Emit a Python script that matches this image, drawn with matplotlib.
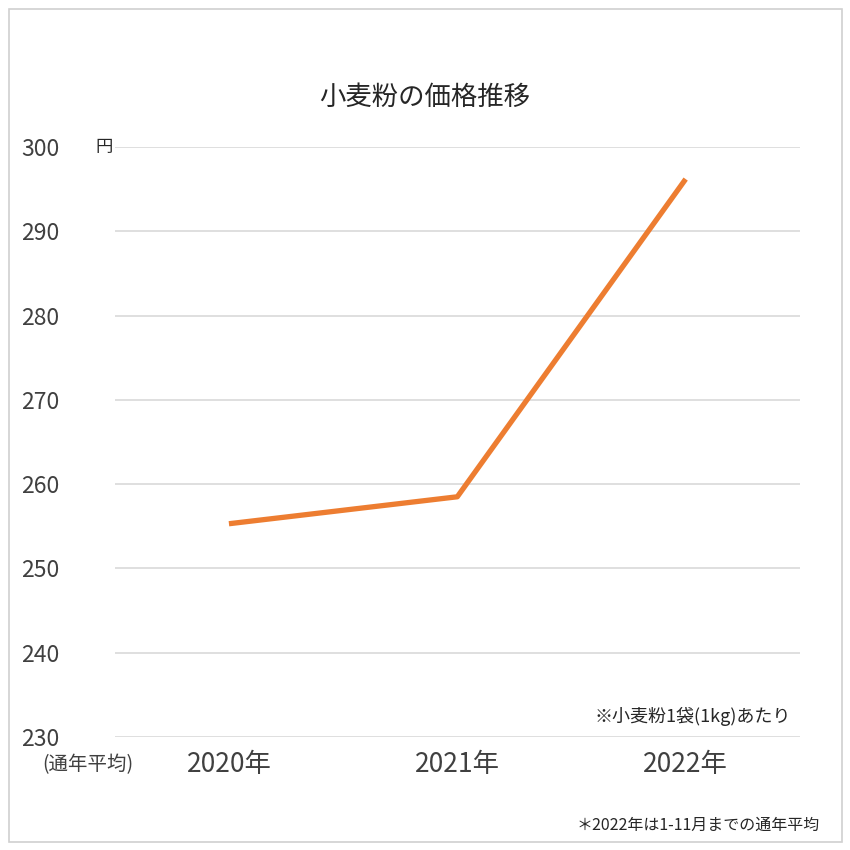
import matplotlib
matplotlib.use("Agg")
import matplotlib.pyplot as plt
from matplotlib.patches import Rectangle

plt.rcParams['font.family'] = ['Noto Sans CJK JP', 'DejaVu Sans']

# data
years = ["2020年", "2021年", "2022年"]
prices = [255.3, 258.5, 296.2]
yticks = [230, 240, 250, 260, 270, 280, 290, 300]

fig = plt.figure(figsize=(8.5, 8.5), dpi=100)
fig.patches.append(Rectangle((0.01, 0.01), 0.98, 0.98, transform=fig.transFigure,
                             fill=False, edgecolor="#d0d0d0", linewidth=1.2))
ax = fig.add_axes([0.135, 0.133, 0.806, 0.694])

x = range(len(years))
ax.plot(x, prices, color="#ED7D31", linewidth=3.8, solid_capstyle="butt")

ax.set_xlim(-0.5, 2.5)
ax.set_ylim(230, 300)
ax.set_yticks(yticks)
ax.set_yticklabels([str(v) for v in yticks], fontsize=16.5, color="#404040")
ax.yaxis.grid(True, color="#d9d9d9", linewidth=1.2)
ax.set_axisbelow(True)
ax.tick_params(axis="y", length=0, pad=40)
ax.set_xticks(list(x))
ax.set_xticklabels(years, fontsize=19, color="#404040")
ax.tick_params(axis="x", length=0, pad=10)
for s in ax.spines.values():
    s.set_visible(False)

fig.text(0.5, 0.885, "小麦粉の価格推移", ha="center", va="center", fontsize=19, color="#262626")
fig.text(0.112, 0.827, "円", ha="left", va="center", fontsize=12.5, color="#262626")
fig.text(0.05, 0.1, "(通年平均)", ha="left", va="center", fontsize=14, color="#404040")
fig.text(0.93, 0.157, "※小麦粉1袋(1kg)あたり", ha="right", va="center", fontsize=13, color="#262626")
fig.text(0.965, 0.029, "＊2022年は1-11月までの通年平均", ha="right", va="center", fontsize=11.5, color="#262626")

fig.savefig("out.png", dpi=100)
